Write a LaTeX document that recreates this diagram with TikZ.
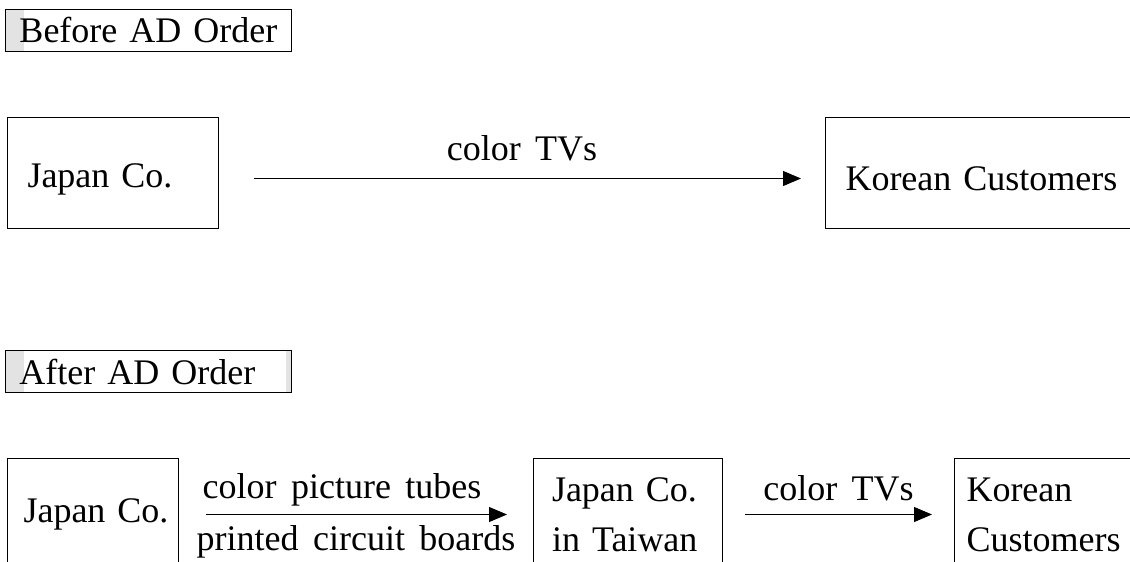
\documentclass[tikz,border=0pt]{standalone}
\usepackage{fontspec}
\setmainfont[WordSpace=1.6]{Liberation Serif}
\usetikzlibrary{arrows.meta}

\begin{document}
\begin{tikzpicture}[x=1pt,y=-1pt,>={Triangle[length=18pt,width=15pt]},
    box/.style={draw,line width=1pt,inner sep=0pt,anchor=north west,align=left,font=\fontsize{36}{50}\selectfont},
    tag/.style={draw,line width=1pt,inner sep=0pt,anchor=north west,minimum width=286pt,minimum height=42pt,
      text width=258pt,font=\fontsize{36}{40}\selectfont,
      path picture={\fill[black!11] (path picture bounding box.north west) rectangle ([xshift=18pt]path picture bounding box.south west); #1}},
    tag/.default={},
    flow/.style={->,line width=1pt},
    goods/.style={font=\fontsize{36}{50}\selectfont,inner sep=0pt,anchor=base}]
  \useasboundingbox (0,0) rectangle (1130,562);
  \clip (0,0) rectangle (1130,562);
  \node[tag] (before) at (5,9) {Before AD Order};
  \node[box,minimum width=211pt,minimum height=111pt,text width=171pt,text height=36pt] (jpA) at (7,117) {Japan Co.};
  \node[box,minimum width=340pt,minimum height=111pt,text width=300pt,text height=36pt] (krA) at (825,117) {Korean Customers};
  \draw[flow,shorten <=35pt,shorten >=24pt] ([yshift=-5.5pt]jpA.east) -- ([yshift=-5.5pt]krA.west)
    node[goods,midway,yshift=18pt] (tvA) {color TVs};
  \node[tag={\fill[black!11] ([xshift=-6pt]path picture bounding box.north east) rectangle (path picture bounding box.south east);}] (after) at (5,350) {After AD Order};
  \node[box,minimum width=171pt,minimum height=112pt,text width=151pt,align=right] (jpB) at (7,458) {Japan Co.};
  \node[box,minimum width=189pt,minimum height=112pt,text width=152pt] (twB) at (533,458) {Japan Co.\\in Taiwan};
  \node[box,minimum width=200pt,minimum height=112pt,text width=176pt] (krB) at (954,458) {Korean\\Customers};
  \draw[flow,shorten <=27pt,shorten >=26pt] (jpB) -- (twB)
    node[goods,midway,xshift=-14pt,yshift=16pt] (tubes) {color picture tubes}
    node[goods,midway,yshift=-36pt] (boards) {printed circuit boards};
  \draw[flow,shorten <=22pt,shorten >=22pt] (twB) -- (krB)
    node[goods,midway,yshift=14pt] (tvB) {color TVs};
\end{tikzpicture}
\end{document}
